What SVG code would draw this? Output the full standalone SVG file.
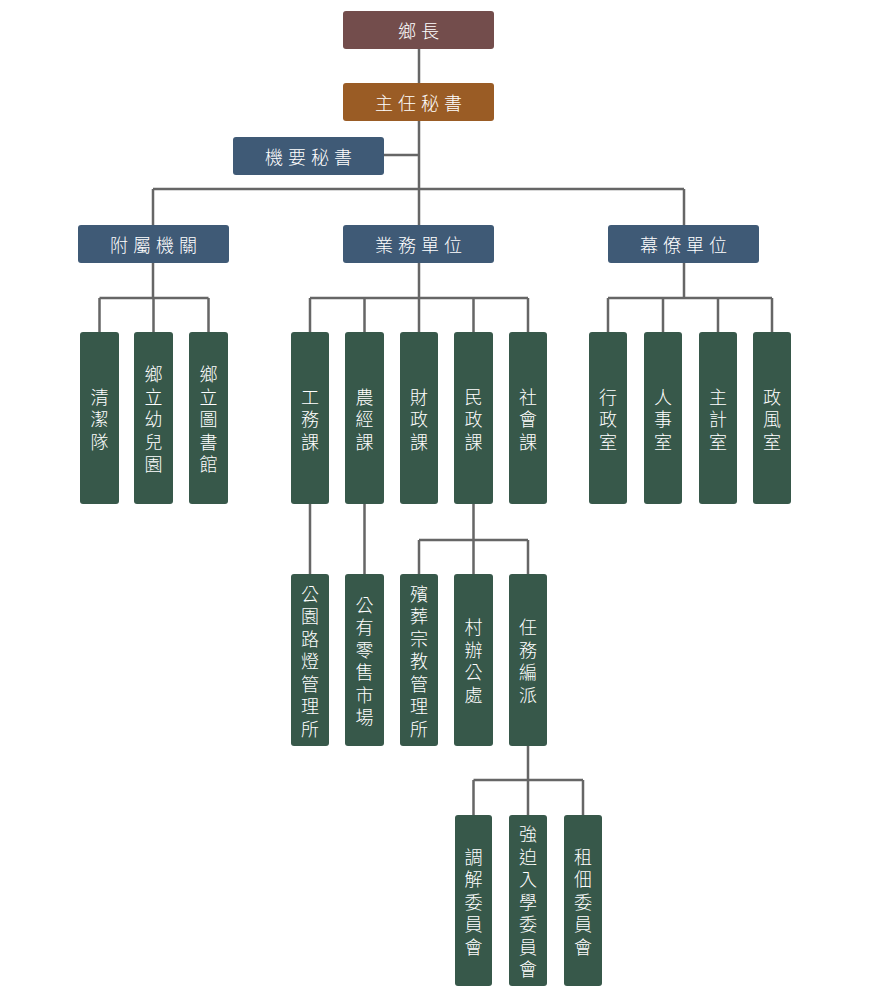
<svg xmlns="http://www.w3.org/2000/svg" width="870" height="997" viewBox="0 0 870 997">
<style>
.ln{stroke:#666;stroke-width:2.5;fill:none}
.head{fill:#734d4c}
.sec{fill:#9a5c25}
.blue{fill:#3f5a76}
.grn{fill:#37584a}
text{font-family:"Noto Sans CJK TC","Noto Sans CJK SC",sans-serif;font-size:18px;font-weight:300;fill:#fff;text-anchor:middle;dominant-baseline:central}
.h{letter-spacing:5px}
</style>
<rect width="870" height="997" fill="#fff"/>
<g id="connectors">
<path class="ln" d="M419 49V83M419 121V225M384 155H419M153 189H684M153 189V225M684 189V225"/>
<path class="ln" d="M153 263V298M99.5 298H208.5M99.5 298V332M153.5 298V332M208.5 298V332"/>
<path class="ln" d="M419 263V298M310 298H528M310 298V332M364.5 298V332M419 298V332M473.5 298V332M528 298V332"/>
<path class="ln" d="M684 263V298M608 298H772M608 298V332M663 298V332M718 298V332M772 298V332"/>
<path class="ln" d="M310 504V574M364.5 504V574M473.5 504V574M419 540H528M419 540V574M528 540V574"/>
<path class="ln" d="M528 746V815M473.5 780H583M473.5 780V815M528 780V815M583 780V815"/>
</g>
<g id="n_head"><rect class="head" x="343" y="11" width="151" height="38" rx="3"/><text class="h" x="421" y="30">鄉長</text></g>
<g id="n_sec"><rect class="sec" x="343" y="83" width="151" height="38" rx="3"/><text class="h" x="421" y="102">主任秘書</text></g>
<g id="n_jysec"><rect class="blue" x="233" y="137" width="151" height="38" rx="3"/><text class="h" x="311" y="156">機要秘書</text></g>
<g id="n_fs"><rect class="blue" x="78" y="225" width="151" height="38" rx="3"/><text class="h" x="156" y="244">附屬機關</text></g>
<g id="n_yw"><rect class="blue" x="343" y="225" width="151" height="38" rx="3"/><text class="h" x="421" y="244">業務單位</text></g>
<g id="n_ml"><rect class="blue" x="608" y="225" width="151" height="38" rx="3"/><text class="h" x="686" y="244">幕僚單位</text></g>

<g id="n_qjd"><rect class="grn" x="80" y="332" width="39" height="172" rx="3"/><text x="99.5 99.5 99.5" y="395.5 418 440.5">清潔隊</text></g>
<g id="n_yey"><rect class="grn" x="134" y="332" width="39" height="172" rx="3"/><text x="153.5 153.5 153.5 153.5 153.5" y="373 395.5 418 440.5 463">鄉立幼兒園</text></g>
<g id="n_tsg"><rect class="grn" x="189" y="332" width="39" height="172" rx="3"/><text x="208.5 208.5 208.5 208.5 208.5" y="373 395.5 418 440.5 463">鄉立圖書館</text></g>

<g id="n_gw"><rect class="grn" x="291" y="332" width="38" height="172" rx="3"/><text x="310 310 310" y="395.5 418 440.5">工務課</text></g>
<g id="n_nj"><rect class="grn" x="345" y="332" width="39" height="172" rx="3"/><text x="364.5 364.5 364.5" y="395.5 418 440.5">農經課</text></g>
<g id="n_cz"><rect class="grn" x="400" y="332" width="38" height="172" rx="3"/><text x="419 419 419" y="395.5 418 440.5">財政課</text></g>
<g id="n_mz"><rect class="grn" x="454" y="332" width="39" height="172" rx="3"/><text x="473.5 473.5 473.5" y="395.5 418 440.5">民政課</text></g>
<g id="n_sh"><rect class="grn" x="509" y="332" width="38" height="172" rx="3"/><text x="528 528 528" y="395.5 418 440.5">社會課</text></g>

<g id="n_xz"><rect class="grn" x="589" y="332" width="38" height="172" rx="3"/><text x="608 608 608" y="395.5 418 440.5">行政室</text></g>
<g id="n_rs"><rect class="grn" x="644" y="332" width="38" height="172" rx="3"/><text x="663 663 663" y="395.5 418 440.5">人事室</text></g>
<g id="n_zj"><rect class="grn" x="699" y="332" width="38" height="172" rx="3"/><text x="718 718 718" y="395.5 418 440.5">主計室</text></g>
<g id="n_zf"><rect class="grn" x="753" y="332" width="38" height="172" rx="3"/><text x="772 772 772" y="395.5 418 440.5">政風室</text></g>

<g id="n_gyld"><rect class="grn" x="291" y="574" width="38" height="172" rx="3"/><text x="310 310 310 310 310 310 310" y="592.5 615 637.5 660 682.5 705 727.5">公園路燈管理所</text></g>
<g id="n_gysc"><rect class="grn" x="345" y="574" width="39" height="172" rx="3"/><text x="364.5 364.5 364.5 364.5 364.5 364.5" y="603.75 626.25 648.75 671.25 693.75 716.25">公有零售市場</text></g>
<g id="n_bz"><rect class="grn" x="400" y="574" width="38" height="172" rx="3"/><text x="419 419 419 419 419 419 419" y="592.5 615 637.5 660 682.5 705 727.5">殯葬宗教管理所</text></g>
<g id="n_cb"><rect class="grn" x="454" y="574" width="39" height="172" rx="3"/><text x="473.5 473.5 473.5 473.5" y="626.25 648.75 671.25 693.75">村辦公處</text></g>
<g id="n_rw"><rect class="grn" x="509" y="574" width="38" height="172" rx="3"/><text x="528 528 528 528" y="626.25 648.75 671.25 693.75">任務編派</text></g>

<g id="n_tj"><rect class="grn" x="455" y="815" width="37" height="171" rx="3"/><text x="473.5 473.5 473.5 473.5 473.5" y="855.5 878 900.5 923 945.5">調解委員會</text></g>
<g id="n_qp"><rect class="grn" x="509" y="815" width="38" height="171" rx="3"/><text x="528 528 528 528 528 528 528" y="833 855.5 878 900.5 923 945.5 968">強迫入學委員會</text></g>
<g id="n_zd"><rect class="grn" x="564" y="815" width="38" height="171" rx="3"/><text x="583 583 583 583 583" y="855.5 878 900.5 923 945.5">租佃委員會</text></g>
</svg>
